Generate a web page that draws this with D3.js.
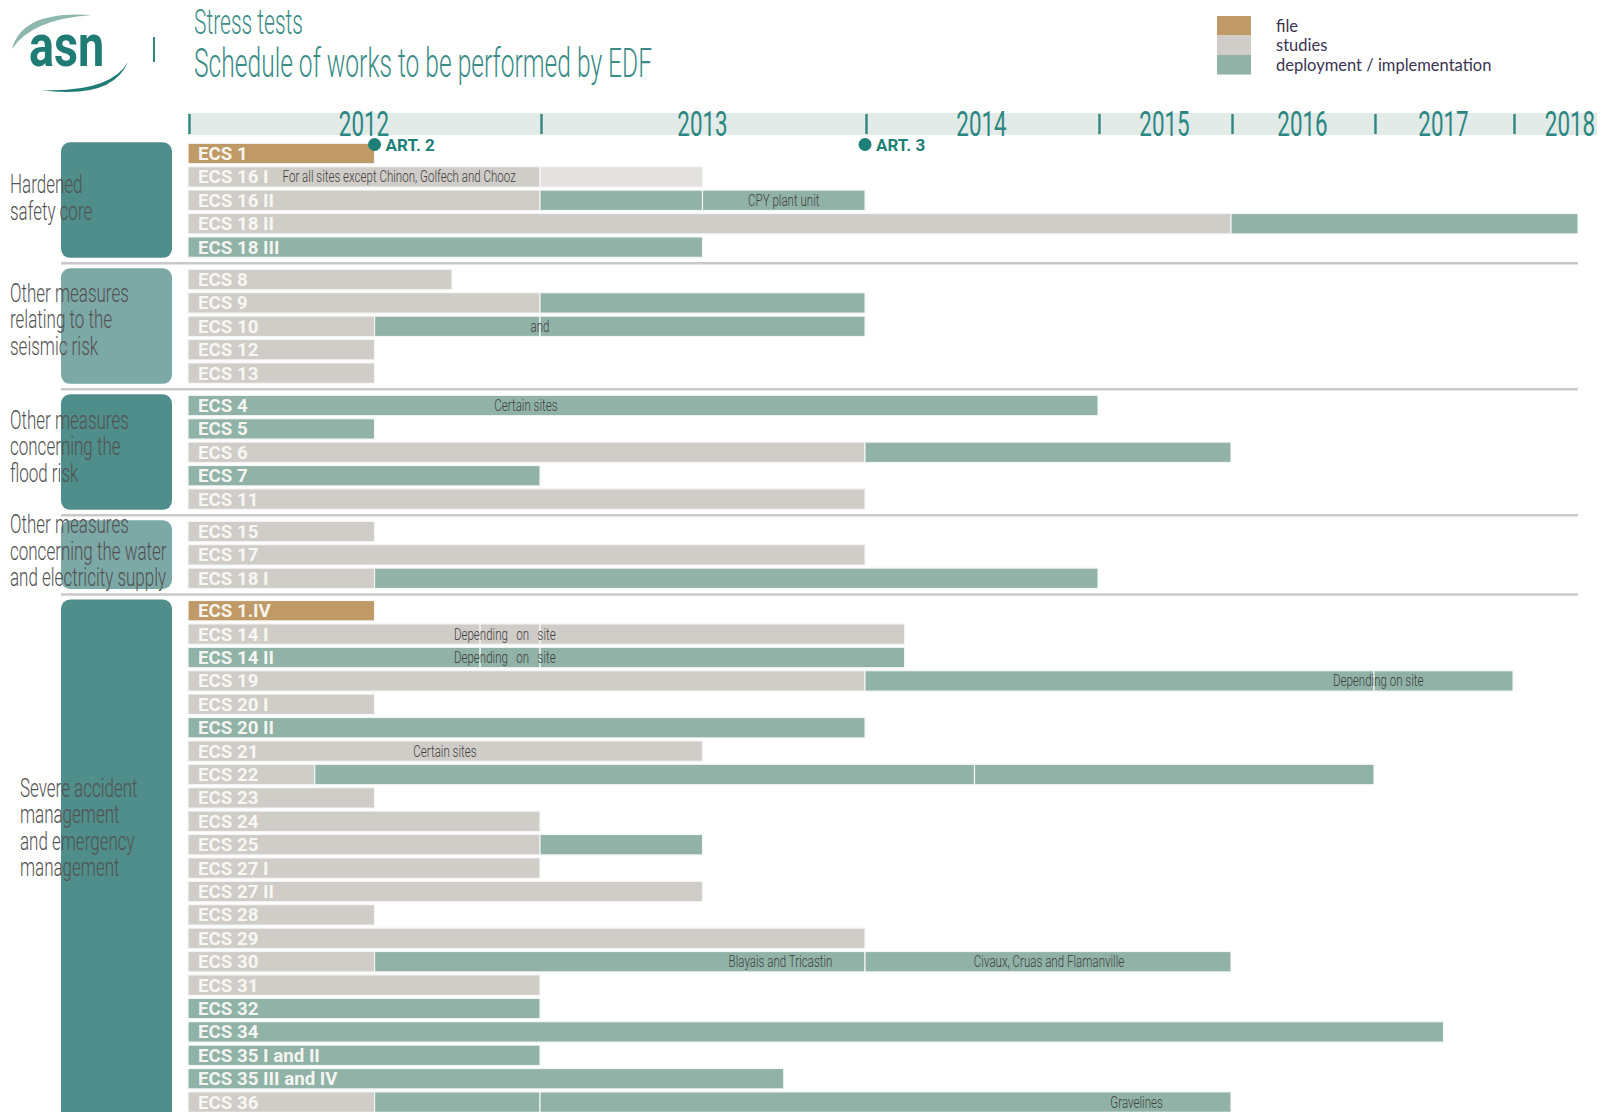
<!DOCTYPE html>
<html>
<head>
<meta charset="utf-8">
<script src="https://cdn.jsdelivr.net/npm/d3@7"></script>
<style>
  body { margin: 0; background: #fff; }
  svg { display: block; }
</style>
</head>
<body>
<script>
// ---- data ----
const years = [2012, 2013, 2014, 2015, 2016, 2017, 2018];
const phases = ["file", "studies", "deployment / implementation", "studies (other sites)"];
const legendPhases = [0, 1, 2];

const groupLabels = [
  ["Hardened", "safety core"],
  ["Other measures", "relating to the", "seismic risk"],
  ["Other measures", "concerning the", "flood risk"],
  ["Other measures", "concerning the water", "and electricity supply"],
  ["Severe accident", "management", "and emergency", "management"]
];

const groupRows = [
  ["ECS 1", "ECS 16 I", "ECS 16 II", "ECS 18 II", "ECS 18 III"],
  ["ECS 8", "ECS 9", "ECS 10", "ECS 12", "ECS 13"],
  ["ECS 4", "ECS 5", "ECS 6", "ECS 7", "ECS 11"],
  ["ECS 15", "ECS 17", "ECS 18 I"],
  ["ECS 1.IV", "ECS 14 I", "ECS 14 II", "ECS 19", "ECS 20 I", "ECS 20 II", "ECS 21",
   "ECS 22", "ECS 23", "ECS 24", "ECS 25", "ECS 27 I", "ECS 27 II", "ECS 28", "ECS 29",
   "ECS 30", "ECS 31", "ECS 32", "ECS 34", "ECS 35 I and II", "ECS 35 III and IV", "ECS 36"]
];

// [row, start, end, phase index]
const segments = [
  ["ECS 1", 2012, 2012.53, 0],
  ["ECS 16 I", 2012, 2013, 1], ["ECS 16 I", 2013, 2013.5, 3],
  ["ECS 16 II", 2012, 2013, 1], ["ECS 16 II", 2013, 2013.5, 2], ["ECS 16 II", 2013.5, 2014, 2],
  ["ECS 18 II", 2012, 2016, 1], ["ECS 18 II", 2016, 2018.5, 2],
  ["ECS 18 III", 2012, 2013.5, 2],
  ["ECS 8", 2012, 2012.75, 1],
  ["ECS 9", 2012, 2013, 1], ["ECS 9", 2013, 2014, 2],
  ["ECS 10", 2012, 2012.53, 1], ["ECS 10", 2012.53, 2013, 2], ["ECS 10", 2013, 2014, 2],
  ["ECS 12", 2012, 2012.53, 1],
  ["ECS 13", 2012, 2012.53, 1],
  ["ECS 4", 2012, 2015, 2],
  ["ECS 5", 2012, 2012.53, 2],
  ["ECS 6", 2012, 2014, 1], ["ECS 6", 2014, 2016, 2],
  ["ECS 7", 2012, 2013, 2],
  ["ECS 11", 2012, 2014, 1],
  ["ECS 15", 2012, 2012.53, 1],
  ["ECS 17", 2012, 2014, 1],
  ["ECS 18 I", 2012, 2012.53, 1], ["ECS 18 I", 2012.53, 2015, 2],
  ["ECS 1.IV", 2012, 2012.53, 0],
  ["ECS 14 I", 2012, 2012.83, 1], ["ECS 14 I", 2012.83, 2013, 1], ["ECS 14 I", 2013, 2014.17, 1],
  ["ECS 14 II", 2012, 2012.83, 2], ["ECS 14 II", 2012.83, 2013, 2], ["ECS 14 II", 2013, 2014.17, 2],
  ["ECS 19", 2012, 2014, 1], ["ECS 19", 2014, 2017, 2], ["ECS 19", 2017, 2018, 2],
  ["ECS 20 I", 2012, 2012.53, 1],
  ["ECS 20 II", 2012, 2014, 2],
  ["ECS 21", 2012, 2013.5, 1],
  ["ECS 22", 2012, 2012.36, 1], ["ECS 22", 2012.36, 2014.47, 2], ["ECS 22", 2014.47, 2017, 2],
  ["ECS 23", 2012, 2012.53, 1],
  ["ECS 24", 2012, 2013, 1],
  ["ECS 25", 2012, 2013, 1], ["ECS 25", 2013, 2013.5, 2],
  ["ECS 27 I", 2012, 2013, 1],
  ["ECS 27 II", 2012, 2013.5, 1],
  ["ECS 28", 2012, 2012.53, 1],
  ["ECS 29", 2012, 2014, 1],
  ["ECS 30", 2012, 2012.53, 1], ["ECS 30", 2012.53, 2014, 2], ["ECS 30", 2014, 2016, 2],
  ["ECS 31", 2012, 2013, 1],
  ["ECS 32", 2012, 2013, 2],
  ["ECS 34", 2012, 2017.5, 2],
  ["ECS 35 I and II", 2012, 2013, 2],
  ["ECS 35 III and IV", 2012, 2013.75, 2],
  ["ECS 36", 2012, 2012.53, 1], ["ECS 36", 2012.53, 2013, 2], ["ECS 36", 2013, 2016, 2]
];

// [row, year at text centre, text]
const notes = [
  ["ECS 16 I", 2012.6, "For all sites except Chinon, Golfech and Chooz"],
  ["ECS 16 II", 2013.75, "CPY plant unit"],
  ["ECS 10", 2013.0, "and"],
  ["ECS 4", 2012.96, "Certain sites"],
  ["ECS 14 I", 2012.9, "Depending   on   site"],
  ["ECS 14 II", 2012.9, "Depending   on   site"],
  ["ECS 19", 2017.03, "Depending on site"],
  ["ECS 21", 2012.73, "Certain sites"],
  ["ECS 30", 2013.74, "Blayais and Tricastin"],
  ["ECS 30", 2014.79, "Civaux, Cruas and Flamanville"],
  ["ECS 36", 2015.29, "Gravelines"]
];

const milestones = [["ART. 2", 2012.53], ["ART. 3", 2014]];

// ---- layout ----
const width = 1605, height = 1112;
const yearWidths = [352, 325, 233, 133, 143, 139, 130];
const axisLeft = 188, axisRight = 1597;
const rowPitch = 23.4, barH = 20.4, groupGap = 9, firstRowCenter = 153.5;
const boxX = 61, boxW = 111;
const phaseColors = ["#bf9a67", "#d0ccc7", "#90b2a7", "#e4e2df"];
const boxColors = ["#4f8e8a", "#7ca8a6", "#4f8e8a", "#7ca8a6", "#4f8e8a"];
const labelShift = [-2, -6, -5, -3, -28];
const labelX = [10, 10, 10, 10, 20];
const teal = "#2c8782";

const bounds = [axisLeft];
yearWidths.forEach(w => bounds.push(bounds[bounds.length - 1] + w));
const x = d3.scaleLinear()
  .domain(d3.range(years[0], years[years.length - 1] + 2))
  .range(bounds);

// row slots: row index plus group gaps
const rowInfo = new Map();
let ri = 0;
groupRows.forEach((rows, g) => {
  rows.forEach(r => { rowInfo.set(r, {slot: ri + g * groupGap / rowPitch, group: g}); ri++; });
});
const y = d3.scaleLinear().domain([0, 1]).range([firstRowCenter, firstRowCenter + rowPitch]);
const yc = r => y(rowInfo.get(r).slot);

const svg = d3.select("body").append("svg")
  .attr("width", width).attr("height", height)
  .style("font-family", "Roboto, 'Open Sans', sans-serif");

// narrow text helper (the original uses a condensed face)
function narrowText(g, tx, ty, txt, sx) {
  return g.append("text")
    .attr("transform", `translate(${tx},${ty}) scale(${sx},1)`)
    .text(txt);
}

// ---- logo & title ----
const logo = svg.append("g");
logo.append("path")
  .attr("d", "M12 49 Q22 10 92 15 Q32 19 12 49 Z")
  .attr("fill", "#8cb8ae");
logo.append("path")
  .attr("d", "M40 90 Q112 100 128 62 Q110 93 40 90 Z")
  .attr("fill", "#1e7c75");
narrowText(logo, 29, 66, "asn", 0.78)
  .attr("font-size", 60).attr("font-weight", 700).attr("fill", "#1e7c75");
logo.append("line")
  .attr("x1", 154).attr("x2", 154).attr("y1", 37).attr("y2", 62)
  .attr("stroke", teal).attr("stroke-width", 2);

svg.append("text")
  .attr("x", 194).attr("y", 34)
  .attr("font-size", 35).attr("font-weight", 300).attr("fill", "#3a8c87")
  .attr("textLength", 109).attr("lengthAdjust", "spacingAndGlyphs")
  .text("Stress tests");
svg.append("text")
  .attr("x", 194).attr("y", 77)
  .attr("font-size", 41).attr("font-weight", 300).attr("fill", "#3a8c87")
  .attr("textLength", 458).attr("lengthAdjust", "spacingAndGlyphs")
  .text("Schedule of works to be performed by EDF");

// ---- legend ----
const legend = svg.append("g").attr("transform", "translate(1217,16)");
legendPhases.forEach((p, i) => {
  legend.append("rect")
    .attr("x", 0).attr("y", i * 19.5)
    .attr("width", 34).attr("height", 19.5)
    .attr("fill", phaseColors[p]);
  legend.append("text")
    .attr("x", 59).attr("y", i * 19.5 + 9.75).attr("dy", "0.35em")
    .attr("font-family", "Lato, 'Open Sans', sans-serif")
    .attr("font-size", 16.5).attr("fill", "#3a3450")
    .text(phases[p]);
});

// ---- axis ----
const axisG = svg.append("g");
axisG.append("rect")
  .attr("x", x(years[0])).attr("y", 113)
  .attr("width", axisRight - x(years[0])).attr("height", 22)
  .attr("fill", "#e3ebe8");
years.forEach(yr => {
  axisG.append("line")
    .attr("x1", x(yr) + 1.5).attr("x2", x(yr) + 1.5)
    .attr("y1", 114).attr("y2", 134)
    .attr("stroke", teal).attr("stroke-width", 2.4);
  const mid = Math.min((x(yr) + x(yr + 1)) / 2, axisRight - 27);
  narrowText(axisG, mid, 136, yr, 0.64)
    .attr("text-anchor", "middle")
    .attr("font-size", 35).attr("font-weight", 400).attr("fill", teal);
});

// ---- group boxes, labels, separators ----
groupRows.forEach((rows, g) => {
  const top = yc(rows[0]) - barH / 2 - 1;
  const bottom = g === groupRows.length - 1 ? height + 20 : yc(rows[rows.length - 1]) + barH / 2 + 0.5;
  svg.append("rect")
    .attr("x", boxX).attr("y", top)
    .attr("width", boxW).attr("height", bottom - top)
    .attr("rx", 9)
    .attr("fill", boxColors[g]);
  if (g < groupRows.length - 1) {
    const sepY = (yc(rows[rows.length - 1]) + yc(groupRows[g + 1][0])) / 2;
    svg.append("line")
      .attr("x1", boxX).attr("x2", 1578)
      .attr("y1", sepY).attr("y2", sepY)
      .attr("stroke", "#c9c9c9").attr("stroke-width", 2.5);
  }
});

// ---- bars ----
const bars = svg.append("g");
bars.selectAll("rect")
  .data(segments)
  .join("rect")
  .attr("x", d => x(d[1]))
  .attr("y", d => yc(d[0]) - barH / 2)
  .attr("width", d => x(d[2]) - x(d[1]))
  .attr("height", barH)
  .attr("fill", d => phaseColors[d[3]])
  .attr("stroke", "#f4f6f5")
  .attr("stroke-width", 1.2);

// row labels
groupRows.flat().forEach(r => {
  narrowText(svg, x(years[0]) + 10, yc(r) + 6.5, r, 1.04)
    .attr("font-size", 18).attr("font-weight", 700)
    .attr("fill", "#fbfaf6").attr("fill-opacity", 0.95);
});

// notes inside bars
notes.forEach(n => {
  narrowText(svg, x(n[1]), yc(n[0]) + 5.5, n[2], 0.68)
    .attr("text-anchor", "middle")
    .attr("xml:space", "preserve")
    .style("white-space", "pre")
    .attr("font-size", 17).attr("font-weight", 300)
    .attr("fill", "#404040");
});

// group labels (over the boxes)
groupLabels.forEach((lines, g) => {
  const rows = groupRows[g];
  const centre = (yc(rows[0]) + yc(rows[rows.length - 1])) / 2 + labelShift[g];
  const lh = 26.5;
  lines.forEach((ln, i) => {
    narrowText(svg, labelX[g], centre - (lines.length - 1) / 2 * lh + i * lh + 8, ln, 0.68)
      .attr("font-size", 25).attr("font-weight", 300).attr("fill", "#525252");
  });
});

// ---- milestones ----
milestones.forEach(m => {
  const cx = x(m[1]);
  svg.append("circle")
    .attr("cx", cx).attr("cy", 144.5).attr("r", 6.5)
    .attr("fill", "#1d8078");
  narrowText(svg, cx + 11, 151, m[0], 1.0)
    .attr("font-size", 17).attr("font-weight", 700).attr("fill", "#1d8078");
});
</script>
</body>
</html>
